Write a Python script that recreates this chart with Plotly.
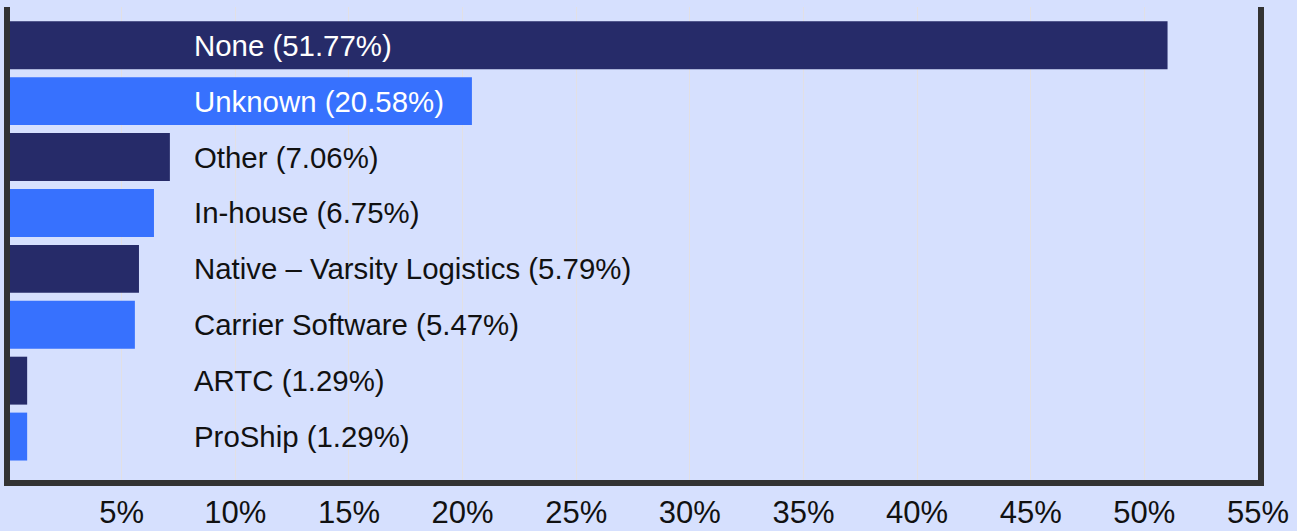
import plotly.graph_objects as go

categories = ["None", "Unknown", "Other", "In-house", "Native – Varsity Logistics",
              "Carrier Software", "ARTC", "ProShip"]
bar_values = [51.02, 20.41, 7.12, 6.42, 5.76, 5.58, 0.84, 0.84]
label_pcts = ["51.77%", "20.58%", "7.06%", "6.75%", "5.79%", "5.47%", "1.29%", "1.29%"]
tick_values = [5, 10, 15, 20, 25, 30, 35, 40, 45, 50, 55]
tick_labels = ["5%", "10%", "15%", "20%", "25%", "30%", "35%", "40%", "45%", "50%", "55%"]

NAVY = "#262b69"
BLUE = "#3771fe"
BG = "#d6e0fe"
colors = [NAVY if i % 2 == 0 else BLUE for i in range(len(categories))]
label_colors = ["#ffffff", "#ffffff"] + ["#111111"] * (len(categories) - 2)

fig = go.Figure(go.Bar(
    x=bar_values, y=categories, orientation="h", base=0,
    marker=dict(color=colors, line=dict(width=0)),
    hoverinfo="skip",
))

for cat, pct, col in zip(categories, label_pcts, label_colors):
    fig.add_annotation(x=8.1, y=cat, xref="x", yref="y", text=f"{cat} ({pct})",
                       showarrow=False, xanchor="left", yanchor="middle",
                       font=dict(size=29.4, color=col, family="Arial, Liberation Sans"))

fig.update_layout(
    width=1297, height=531,
    margin=dict(l=10, r=39, t=7, b=51, autoexpand=False),
    paper_bgcolor=BG, plot_bgcolor=BG,
    bargap=0.143,
    showlegend=False,
    font=dict(family="Arial, Liberation Sans", color="#111111"),
    xaxis=dict(range=[0.085, 55], tickvals=tick_values, ticktext=tick_labels,
               showgrid=True, gridcolor="#e2e0e4", gridwidth=1,
               showline=True, linecolor="#333333", linewidth=6,
               zeroline=False, ticks="", automargin=False,
               tickfont=dict(size=31, color="#111111")),
    yaxis=dict(categoryorder="array", categoryarray=categories,
               range=[7.777, -0.684], showticklabels=False, showgrid=False,
               showline=True, mirror=True, linecolor="#333333", linewidth=6,
               zeroline=False, ticks="", automargin=False),
)

fig.write_html("out.html")
